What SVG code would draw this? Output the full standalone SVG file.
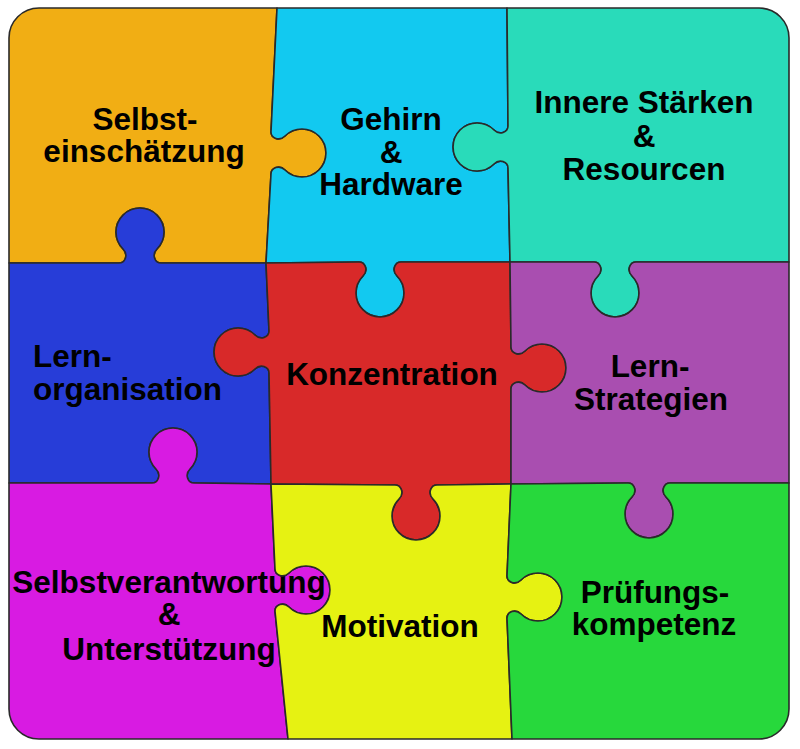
<svg xmlns="http://www.w3.org/2000/svg" width="800" height="749" viewBox="0 0 800 749">
<style>
.pc{stroke:#2a2a2a;stroke-width:1.6;stroke-linejoin:round}
.t{font-family:"Liberation Sans",Arial,Helvetica,sans-serif;font-weight:bold;font-size:31.5px;fill:#000;text-anchor:middle}
.s{text-anchor:start}
</style>
<rect width="800" height="749" fill="#ffffff"/>
<g id="selbsteinschaetzung">
<path class="pc" fill="#F1AE14" d="M 9,38 A 30 30 0 0 1 39,8 L 277,8 L 271,132 C 271,138 279.3,141.7 285,136 A 24 24 0 1 1 285,170 C 279.3,164.3 271,168 271,174 L 266,263 L 161,263 C 155,263 151.3,254.7 157,249 A 24 24 0 1 0 123,249 C 128.7,254.7 125,263 119,263 L 9,263 Z"/>
<text class="t" x="145" y="130">Selbst-</text>
<text class="t" x="144" y="162">einschätzung</text>
</g>
<g id="gehirn">
<path class="pc" fill="#12C9F0" d="M 277,8 L 507,8 L 508,126 C 508,132 499.7,135.7 494,130 A 24 24 0 1 0 494,164 C 499.7,158.3 508,162 508,168 L 510,262 L 401,262 C 395,262 391.3,270.3 397,276 A 24 24 0 1 1 363,276 C 368.7,270.3 365,262 359,262 L 266,263 L 271,174 C 271,168 279.3,164.3 285,170 A 24 24 0 1 0 285,136 C 279.3,141.7 271,138 271,132 Z"/>
<text class="t" x="391" y="130">Gehirn</text>
<text class="t" x="391" y="163">&amp;</text>
<text class="t" x="391" y="195">Hardware</text>
</g>
<g id="innere-staerken">
<path class="pc" fill="#29DBBA" d="M 507,8 L 759,8 A 30 30 0 0 1 789,38 L 789,262 L 636,262 C 630,262 626.3,270.3 632,276 A 24 24 0 1 1 598,276 C 603.7,270.3 600,262 594,262 L 510,262 L 508,168 C 508,162 499.7,158.3 494,164 A 24 24 0 1 1 494,130 C 499.7,135.7 508,132 508,126 Z"/>
<text class="t" x="644" y="113">Innere Stärken</text>
<text class="t" x="644" y="147">&amp;</text>
<text class="t" x="644" y="180">Resourcen</text>
</g>
<g id="lernorganisation">
<path class="pc" fill="#273DD8" d="M 9,263 L 119,263 C 125,263 128.7,254.7 123,249 A 24 24 0 1 1 157,249 C 151.3,254.7 155,263 161,263 L 266,263 L 269,331 C 269,337 260.7,340.7 255,335 A 24 24 0 1 0 255,369 C 260.7,363.3 269,367 269,373 L 271,484 L 194,483 C 188,483 184.3,474.7 190,469 A 24 24 0 1 0 156,469 C 161.7,474.7 158,483 152,483 L 9,483 Z"/>
<text class="t s" x="33" y="367">Lern-</text>
<text class="t s" x="33" y="400">organisation</text>
</g>
<g id="konzentration">
<path class="pc" fill="#D82929" d="M 266,263 L 359,262 C 365,262 368.7,270.3 363,276 A 24 24 0 1 0 397,276 C 391.3,270.3 395,262 401,262 L 510,262 L 511,347 C 511,353 519.3,356.7 525,351 A 24 24 0 1 1 525,385 C 519.3,379.3 511,383 511,389 L 511,484 L 437,485 C 431,485 427.3,493.3 433,499 A 24 24 0 1 1 399,499 C 404.7,493.3 401,485 395,485 L 271,484 L 269,373 C 269,367 260.7,363.3 255,369 A 24 24 0 1 1 255,335 C 260.7,340.7 269,337 269,331 Z"/>
<text class="t" x="392" y="385">Konzentration</text>
</g>
<g id="lernstrategien">
<path class="pc" fill="#A94EB0" d="M 510,262 L 594,262 C 600,262 603.7,270.3 598,276 A 24 24 0 1 0 632,276 C 626.3,270.3 630,262 636,262 L 789,262 L 789,483 L 670,483 C 664,483 660.3,491.3 666,497 A 24 24 0 1 1 632,497 C 637.7,491.3 634,483 628,483 L 511,484 L 511,389 C 511,383 519.3,379.3 525,385 A 24 24 0 1 0 525,351 C 519.3,356.7 511,353 511,347 Z"/>
<text class="t" x="650" y="377">Lern-</text>
<text class="t" x="651" y="410">Strategien</text>
</g>
<g id="selbstverantwortung">
<path class="pc" fill="#D81BE2" d="M 9,483 L 152,483 C 158,483 161.7,474.7 156,469 A 24 24 0 1 1 190,469 C 184.3,474.7 188,483 194,483 L 271,484 L 275,569 C 275,575 283.3,578.7 289,573 A 24 24 0 1 1 289,607 C 283.3,601.3 275,605 275,611 L 288,739 L 39,739 A 30 30 0 0 1 9,709 Z"/>
<text class="t" x="169" y="593">Selbstverantwortung</text>
<text class="t" x="169" y="625">&amp;</text>
<text class="t" x="169" y="660">Unterstützung</text>
</g>
<g id="motivation">
<path class="pc" fill="#E6F212" d="M 271,484 L 395,485 C 401,485 404.7,493.3 399,499 A 24 24 0 1 0 433,499 C 427.3,493.3 431,485 437,485 L 511,484 L 507,576 C 507,582 515.3,585.7 521,580 A 24 24 0 1 1 521,614 C 515.3,608.3 507,612 507,618 L 512,739 L 288,739 L 275,611 C 275,605 283.3,601.3 289,607 A 24 24 0 1 0 289,573 C 283.3,578.7 275,575 275,569 Z"/>
<text class="t" x="400" y="637">Motivation</text>
</g>
<g id="pruefungskompetenz">
<path class="pc" fill="#27D83C" d="M 511,484 L 628,483 C 634,483 637.7,491.3 632,497 A 24 24 0 1 0 666,497 C 660.3,491.3 664,483 670,483 L 789,483 L 789,709 A 30 30 0 0 1 759,739 L 512,739 L 507,618 C 507,612 515.3,608.3 521,614 A 24 24 0 1 0 521,580 C 515.3,585.7 507,582 507,576 Z"/>
<text class="t" x="655" y="603">Prüfungs-</text>
<text class="t" x="654" y="635">kompetenz</text>
</g>
</svg>
